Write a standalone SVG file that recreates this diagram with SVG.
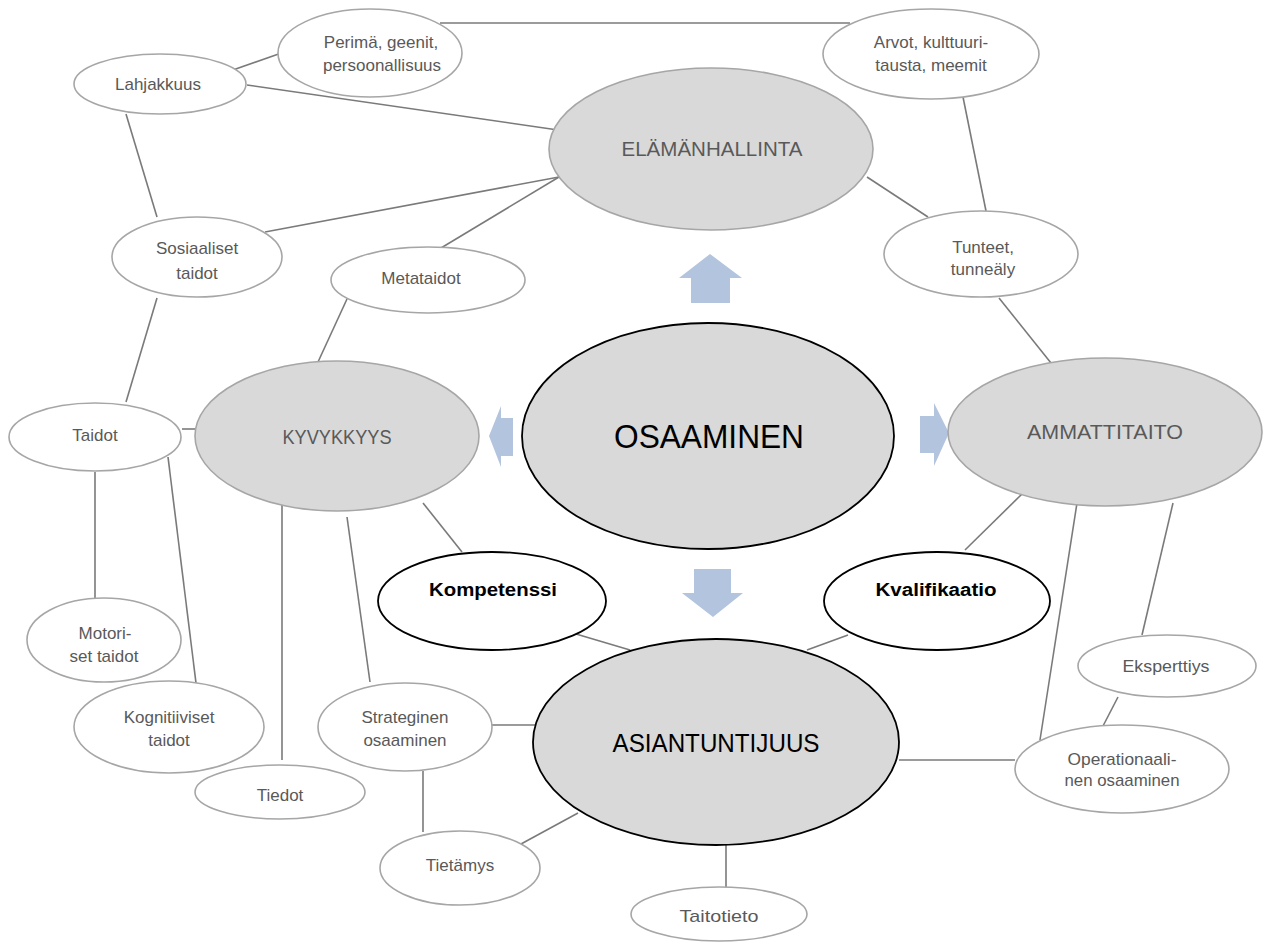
<svg xmlns="http://www.w3.org/2000/svg" width="1263" height="946" viewBox="0 0 1263 946">
<style>
.c line{stroke:#7a7a7a;stroke-width:1.6}
.n{fill:#fff;stroke:#a6a6a6;stroke-width:1.6}
.g{fill:#d9d9d9;stroke:#a6a6a6;stroke-width:1.6}
.gb{fill:#d9d9d9;stroke:#000;stroke-width:1.8}
.wb{fill:#fff;stroke:#000;stroke-width:1.8}
text{font-family:"Liberation Sans",Arial,sans-serif;text-anchor:middle}
.t{font-size:17px;fill:#595959}
.h{font-size:20px;fill:#595959}
.hb{fill:#000}
.b{font-size:18px;font-weight:bold;fill:#000}
.arr{fill:#b3c4de}
</style>
<rect width="1263" height="946" fill="#fff"/>
<g class="c" id="connectors">
<line x1="230" y1="71" x2="290" y2="50"/>
<line x1="247" y1="85" x2="558" y2="130"/>
<line x1="126" y1="114" x2="157" y2="217"/>
<line x1="265" y1="232" x2="559" y2="177"/>
<line x1="441" y1="248" x2="559" y2="177"/>
<line x1="440" y1="23" x2="850" y2="23"/>
<line x1="963" y1="97" x2="986" y2="211"/>
<line x1="867" y1="177" x2="928" y2="217"/>
<line x1="999" y1="298" x2="1051" y2="363"/>
<line x1="157" y1="298" x2="126" y2="402"/>
<line x1="347" y1="299" x2="318" y2="362"/>
<line x1="182" y1="429" x2="197" y2="429"/>
<line x1="95" y1="472" x2="95" y2="598"/>
<line x1="168" y1="457" x2="196" y2="683"/>
<line x1="282" y1="502" x2="282" y2="760"/>
<line x1="347" y1="517" x2="370" y2="682"/>
<line x1="423" y1="503" x2="462" y2="552"/>
<line x1="576" y1="634" x2="630" y2="650"/>
<line x1="848" y1="635" x2="807" y2="650"/>
<line x1="1022" y1="494" x2="965" y2="550"/>
<line x1="1077" y1="503" x2="1040" y2="740"/>
<line x1="1173" y1="503" x2="1142" y2="635"/>
<line x1="1118" y1="697" x2="1103" y2="726"/>
<line x1="899" y1="760" x2="1015" y2="760"/>
<line x1="726" y1="845" x2="726" y2="888"/>
<line x1="578" y1="813" x2="521" y2="844"/>
<line x1="492" y1="725" x2="539" y2="725"/>
<line x1="423" y1="771" x2="423" y2="832"/>
</g>
<g id="arrows">
<polygon class="arr" points="710,254 742,278 730,278 730,303 691,303 691,278 679,278"/>
<polygon class="arr" points="949,433 934,403 934,416 920,416 920,453 934,453 934,466"/>
<polygon class="arr" points="489,436 501,406 501,418 513,418 513,456 501,456 501,467"/>
<polygon class="arr" points="713,617 743,593 731,593 731,569 694,569 694,593 682,593"/>
</g>
<g id="perima"><ellipse class="n" cx="370" cy="53" rx="92" ry="44"/><text class="t" x="381" y="48">Perimä, geenit,</text><text class="t" x="382" y="71">persoonallisuus</text></g>
<g id="arvot"><ellipse class="n" cx="931" cy="54" rx="108" ry="45"/><text class="t" x="931" y="48">Arvot, kulttuuri-</text><text class="t" x="931" y="71">tausta, meemit</text></g>
<g id="lahjakkuus"><ellipse class="n" cx="160" cy="84" rx="86" ry="30"/><text class="t" x="158" y="90">Lahjakkuus</text></g>
<g id="elamanhallinta"><ellipse class="g" cx="711" cy="149" rx="162" ry="81"/><text class="h" x="712" y="156" textLength="181" lengthAdjust="spacingAndGlyphs">ELÄMÄNHALLINTA</text></g>
<g id="sosiaaliset"><ellipse class="n" cx="197" cy="257" rx="85" ry="40"/><text class="t" x="197" y="254">Sosiaaliset</text><text class="t" x="197" y="279">taidot</text></g>
<g id="metataidot"><ellipse class="n" cx="428" cy="280" rx="97" ry="33"/><text class="t" x="421" y="284">Metataidot</text></g>
<g id="tunteet"><ellipse class="n" cx="981" cy="254" rx="97" ry="43"/><text class="t" x="983" y="253">Tunteet,</text><text class="t" x="983" y="275">tunneäly</text></g>
<g id="ammattitaito"><ellipse class="g" cx="1105" cy="432" rx="157" ry="74"/><text class="h" x="1105" y="439" textLength="156" lengthAdjust="spacingAndGlyphs">AMMATTITAITO</text></g>
<g id="osaaminen"><ellipse class="gb" cx="708" cy="436" rx="186" ry="113"/><text class="hb" x="709" y="448" font-size="34" textLength="190" lengthAdjust="spacingAndGlyphs">OSAAMINEN</text></g>
<g id="kyvykkyys"><ellipse class="g" cx="337" cy="436" rx="142" ry="75"/><text class="h" x="337" y="444" textLength="109" lengthAdjust="spacingAndGlyphs">KYVYKKYYS</text></g>
<g id="taidot"><ellipse class="n" cx="95" cy="437" rx="86" ry="34"/><text class="t" x="95" y="441">Taidot</text></g>
<g id="kompetenssi"><ellipse class="wb" cx="492" cy="601" rx="114" ry="49"/><text class="b" x="493" y="596" textLength="128" lengthAdjust="spacingAndGlyphs">Kompetenssi</text></g>
<g id="kvalifikaatio"><ellipse class="wb" cx="937" cy="601" rx="113" ry="49"/><text class="b" x="936" y="596" textLength="121" lengthAdjust="spacingAndGlyphs">Kvalifikaatio</text></g>
<g id="motoriset"><ellipse class="n" cx="104" cy="640" rx="77" ry="42"/><text class="t" x="105" y="639">Motori-</text><text class="t" x="104" y="662">set taidot</text></g>
<g id="kognitiiviset"><ellipse class="n" cx="169" cy="727" rx="95" ry="46"/><text class="t" x="169" y="723">Kognitiiviset</text><text class="t" x="169" y="746">taidot</text></g>
<g id="tiedot"><ellipse class="n" cx="280" cy="792" rx="85" ry="27"/><text class="t" x="280" y="801">Tiedot</text></g>
<g id="strateginen"><ellipse class="n" cx="405" cy="727" rx="87" ry="44"/><text class="t" x="405" y="723">Strateginen</text><text class="t" x="405" y="746">osaaminen</text></g>
<g id="tietamys"><ellipse class="n" cx="460" cy="868" rx="80" ry="37"/><text class="t" x="460" y="871">Tietämys</text></g>
<g id="asiantuntijuus"><ellipse class="gb" cx="716" cy="742" rx="183" ry="103"/><text class="hb" x="716" y="752" font-size="26" textLength="207" lengthAdjust="spacingAndGlyphs">ASIANTUNTIJUUS</text></g>
<g id="eksperttiys"><ellipse class="n" cx="1167" cy="666" rx="89" ry="31"/><text class="t" x="1166" y="672" textLength="87" lengthAdjust="spacingAndGlyphs">Eksperttiys</text></g>
<g id="operationaalinen"><ellipse class="n" cx="1122" cy="769" rx="107" ry="44"/><text class="t" x="1122" y="765" textLength="109" lengthAdjust="spacingAndGlyphs">Operationaali-</text><text class="t" x="1122" y="786" textLength="115" lengthAdjust="spacingAndGlyphs">nen osaaminen</text></g>
<g id="taitotieto"><ellipse class="n" cx="719" cy="914" rx="88" ry="27"/><text class="t" x="719" y="922" textLength="79" lengthAdjust="spacingAndGlyphs">Taitotieto</text></g>
</svg>
